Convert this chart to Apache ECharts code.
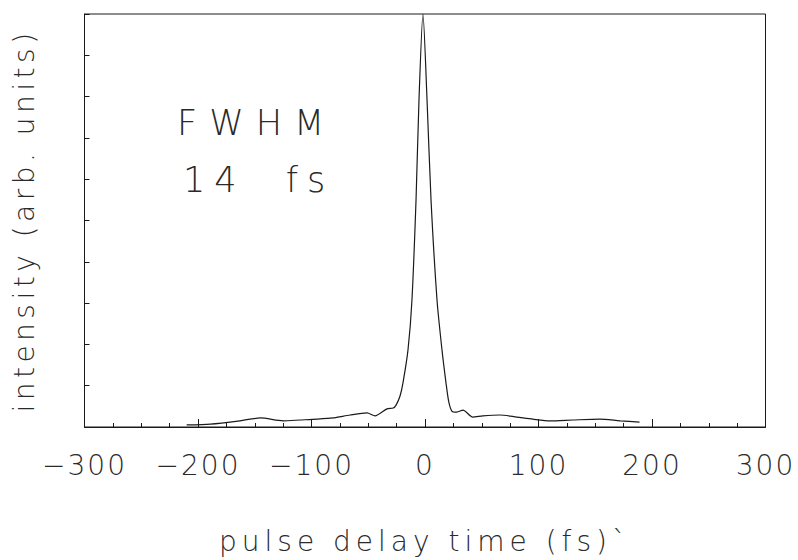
<!DOCTYPE html>
<html><head><meta charset="utf-8">
<script src="https://cdn.jsdelivr.net/npm/echarts@6/dist/echarts.min.js"></script>
<style>html,body{margin:0;padding:0;background:#fff}#c{width:798px;height:560px}</style>
</head><body><div id="c"></div>
<script>
// pulse delay (fs)
const delay = [-210,-189,-163,-145,-125,-110,-95,-81,-66,-51,-44,-33.5,-28,-25.5,-22,-19.4,-15,-11.5,-7.9,-5.3,-1.8,1.8,5.3,10.6,15,18.5,21,23.8,28,33.5,42,51,66,81,95,110,130,154,172,189];
// intensity (arb. units)
const intensity = [0.05,0.07,0.15,0.22,0.15,0.17,0.19,0.22,0.29,0.34,0.27,0.44,0.46,0.53,0.75,1.07,1.86,3.07,5.5,7.92,10,7.92,5.5,3.07,1.86,1.07,0.6,0.38,0.36,0.41,0.24,0.27,0.29,0.24,0.19,0.15,0.17,0.19,0.15,0.12];
const xTicks = [-300,-200,-100,0,100,200,300];
const xTitle = 'pulse delay time (fs)`';
const yTitle = 'intensity (arb. units)';
const note1 = 'FWHM';
const note2 = '14  fs';

const font = "'DejaVu Sans ExtraLight', 'DejaVu Sans', sans-serif";
const ink = '#1a1a1a';
const txt = '#2a2a2a';
const chart = echarts.init(document.getElementById('c'), null, {renderer: 'svg'});
chart.setOption({
  animation: false,
  backgroundColor: '#fff',
  grid: {left: 84.5, right: 32.5, top: 14, bottom: 133, show: true, borderColor: ink, borderWidth: 1, backgroundColor: 'transparent'},
  title: [
    {text: note1, left: 172, top: 100, textStyle: {fontFamily: font, fontWeight: 200, fontSize: 35, color: txt}},
    {text: note2, left: 178, top: 157, textStyle: {fontFamily: font, fontWeight: 200, fontSize: 35, color: txt}}
  ],
  xAxis: {
    type: 'value', min: -300, max: 300, interval: 100,
    axisLine: {onZero: false, lineStyle: {color: ink, width: 1}},
    axisTick: {inside: true, length: 8, lineStyle: {color: ink}},
    minorTick: {show: true, splitNumber: 4, length: 4, lineStyle: {color: ink}},
    splitLine: {show: false},
    axisLabel: {margin: 24, fontFamily: font, fontWeight: 200, fontSize: 28, color: txt, showMinLabel: true, showMaxLabel: true,
      formatter: v => (v < 0 ? '\u2212' + Math.abs(v) : String(v))},
    name: xTitle, nameLocation: 'middle', nameGap: 100,
    nameTextStyle: {fontFamily: font, fontWeight: 200, fontSize: 28, color: txt}
  },
  yAxis: {
    type: 'value', min: 0, max: 10, interval: 1,
    axisLine: {show: true, onZero: false, lineStyle: {color: ink, width: 1}},
    axisTick: {show: true, inside: true, length: 5, lineStyle: {color: ink}},
    splitLine: {show: false},
    axisLabel: {show: false},
    name: yTitle, nameLocation: 'middle', nameGap: 46,
    nameTextStyle: {fontFamily: font, fontWeight: 200, fontSize: 28, color: txt}
  },
  series: [{
    type: 'line', data: delay.map((d, i) => [d, intensity[i]]),
    smooth: 0.25, showSymbol: false, symbol: 'none',
    lineStyle: {color: ink, width: 1.2}
  }]
});
// widen letter spacing to mimic the plotter font
const spacing = {};
spacing[note1] = 12; spacing[note2] = 9; spacing[xTitle] = 5; spacing[yTitle] = 4.5;
xTicks.forEach(v => { spacing[v < 0 ? '\u2212' + Math.abs(v) : String(v)] = 2; });
document.querySelectorAll('#c svg text').forEach(t => {
  const s = spacing[t.textContent];
  if (s) t.style.letterSpacing = s + 'px';
});
</script></body></html>
